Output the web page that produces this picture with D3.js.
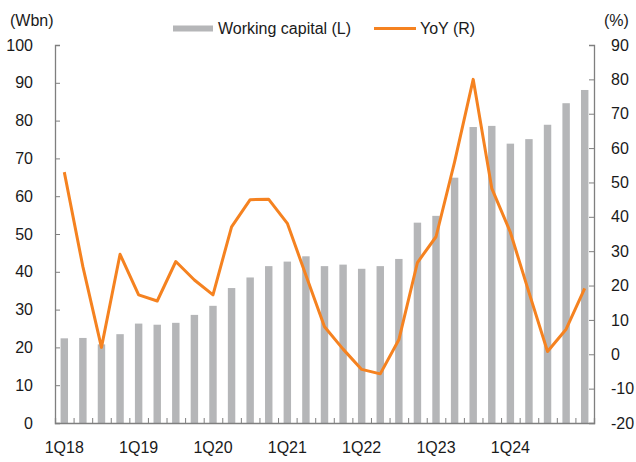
<!DOCTYPE html>
<html>
<head>
<meta charset="utf-8">
<script src="https://cdn.jsdelivr.net/npm/d3@7"></script>
<style>
  html, body { margin: 0; padding: 0; background: #fff; }
  svg { display: block; }
  text { font-family: "Liberation Sans", Arial, sans-serif; fill: #1a1a1a; }
</style>
</head>
<body>
<svg id="chart" width="636" height="462"></svg>
<script>
const quarters = ["1Q18","2Q18","3Q18","4Q18","1Q19","2Q19","3Q19","4Q19",
  "1Q20","2Q20","3Q20","4Q20","1Q21","2Q21","3Q21","4Q21",
  "1Q22","2Q22","3Q22","4Q22","1Q23","2Q23","3Q23","4Q23",
  "1Q24","2Q24","3Q24","4Q24","1Q25"];
const workingCapital = [22.4,22.5,20.8,23.5,26.3,26.0,26.5,28.6,
  31.0,35.7,38.5,41.5,42.7,44.1,41.5,41.9,
  40.8,41.5,43.4,53.0,54.8,64.9,78.3,78.6,
  73.9,75.1,78.9,84.6,88.1];
const yoy = [53.0,25.5,2.0,29.1,17.3,15.5,27.0,21.6,
  17.3,37.1,45.0,45.1,38.1,23.0,8.0,1.5,
  -4.4,-5.7,4.2,26.7,34.2,56.0,80.0,48.3,
  35.5,18.0,0.8,7.3,19.2];
const xLabels = ["1Q18","1Q19","1Q20","1Q21","1Q22","1Q23","1Q24"];
const leftTicks = [0,10,20,30,40,50,60,70,80,90,100];
const rightTicks = [-20,-10,0,10,20,30,40,50,60,70,80,90];
const seriesNames = ["Working capital (L)", "YoY (R)"];

const barColor = "#b5b6b8";
const lineColor = "#f58220";
const axisColor = "#7f7f7f";
const fs = 16;

const svg = d3.select("#chart");
const L = 55, R = 594, T = 45, B = 423;

const x = d3.scaleBand().domain(quarters).range([L, R]).paddingInner(0.6).paddingOuter(0.3);
const yL = d3.scaleLinear().domain([0, 100]).range([B, T]);
const yR = d3.scaleLinear().domain([-20, 90]).range([B, T]);

// bars
svg.append("g").selectAll("rect").data(quarters).join("rect")
  .attr("x", d => x(d))
  .attr("width", x.bandwidth())
  .attr("y", (d, i) => yL(workingCapital[i]))
  .attr("height", (d, i) => yL(0) - yL(workingCapital[i]))
  .attr("fill", barColor);

// axes
const leftAxis = svg.append("g").attr("transform", `translate(${L},0)`)
  .call(d3.axisLeft(yL).tickValues(leftTicks).tickSize(-5).tickFormat(""));
const rightAxis = svg.append("g").attr("transform", `translate(${R},0)`)
  .call(d3.axisRight(yR).tickValues(rightTicks).tickSize(-5).tickFormat(""));
const step = x.step();
const bounds = d3.range(quarters.length + 1).map(i => i);
const xb = d3.scaleLinear().domain([0, quarters.length]).range([L, R]);
const bottomAxis = svg.append("g").attr("transform", `translate(0,${B})`)
  .call(d3.axisBottom(xb).tickValues(bounds).tickSize(-5).tickFormat(""));
[leftAxis, rightAxis, bottomAxis].forEach(g => {
  g.selectAll("path.domain").attr("stroke", axisColor).attr("stroke-width", 1.3);
  g.selectAll(".tick line").attr("stroke", axisColor).attr("stroke-width", 1);
});

// tick labels
svg.append("g").selectAll("text").data(leftTicks).join("text")
  .attr("x", 33).attr("y", d => yL(d)).attr("dy", "0.35em")
  .attr("text-anchor", "end").attr("font-size", fs).text(d => d);
svg.append("g").selectAll("text").data(rightTicks).join("text")
  .attr("x", 611).attr("y", d => yR(d)).attr("dy", "0.35em")
  .attr("text-anchor", "start").attr("font-size", fs).text(d => d);
svg.append("g").selectAll("text").data(xLabels).join("text")
  .attr("x", d => x(d) + x.bandwidth() / 2).attr("y", 453)
  .attr("text-anchor", "middle").attr("font-size", fs).text(d => d);

// unit labels
svg.append("text").attr("x", 10).attr("y", 26).attr("font-size", fs).text("(Wbn)");
svg.append("text").attr("x", 604).attr("y", 26).attr("font-size", fs).text("(%)");

// line
const line = d3.line()
  .x((d, i) => x(quarters[i]) + x.bandwidth() / 2)
  .y(d => yR(d));
svg.append("path").datum(yoy)
  .attr("d", line)
  .attr("fill", "none")
  .attr("stroke", lineColor)
  .attr("stroke-width", 3)
  .attr("stroke-linejoin", "round");

// legend
const lg = svg.append("g");
lg.append("rect").attr("x", 173).attr("y", 25.5).attr("width", 40).attr("height", 6).attr("fill", barColor);
lg.append("text").attr("x", 218).attr("y", 28.5).attr("dy", "0.35em").attr("font-size", fs).text(seriesNames[0]);
lg.append("line").attr("x1", 374).attr("x2", 416).attr("y1", 28.5).attr("y2", 28.5)
  .attr("stroke", lineColor).attr("stroke-width", 3);
lg.append("text").attr("x", 420).attr("y", 28.5).attr("dy", "0.35em").attr("font-size", fs).text(seriesNames[1]);
</script>
</body>
</html>
